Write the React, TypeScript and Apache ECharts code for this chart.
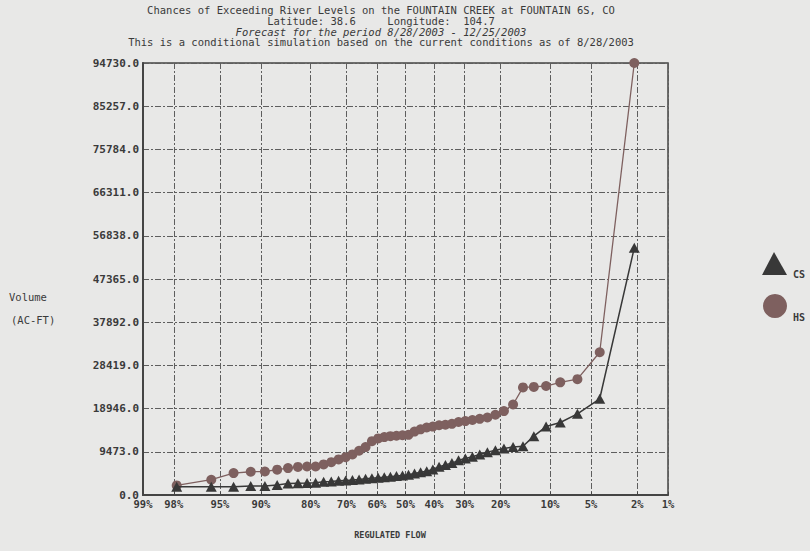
import React, { useEffect, useRef } from "react";
import * as echarts from "echarts";

// ---- text ----
const titleLines = [
  "Chances of Exceeding River Levels on the FOUNTAIN CREEK at FOUNTAIN 6S, CO",
  "Latitude: 38.6     Longitude:  104.7",
  "Forecast for the period 8/28/2003 - 12/25/2003",
  "This is a conditional simulation based on the current conditions as of 8/28/2003",
];
const yNameLines = ["Volume", "(AC-FT)"];
const xName = "REGULATED FLOW";
const seriesNames = ["CS", "HS"];

// ---- x axis (probability of exceedance, normal-probability scale) ----
const tickPercents = [99, 98, 95, 90, 80, 70, 60, 50, 40, 30, 20, 10, 5, 2, 1];
const tickLabels = ["99%", "98%", "95%", "90%", "80%", "70%", "60%", "50%", "40%", "30%", "20%", "10%", "5%", "2%", "1%"];

// ---- y axis ----
const yMin = 0;
const yMax = 94730;
const yInterval = 9473;

// ---- data: exceedance probability (%) of each ranked trace ----
const exceedancePct = [
  97.87, 95.74, 93.62, 91.49, 89.36, 87.23, 85.11, 82.98, 80.85, 78.72,
  76.6, 74.47, 72.34, 70.21, 68.09, 65.96, 63.83, 61.7, 59.57, 57.45,
  55.32, 53.19, 51.06, 48.94, 46.81, 44.68, 42.55, 40.43, 38.3, 36.17,
  34.04, 31.91, 29.79, 27.66, 25.53, 23.4, 21.28, 19.15, 17.02, 14.89,
  12.77, 10.64, 8.51, 6.38, 4.26, 2.13,
];
const hsVolume = [
  2100, 3350, 4800, 5100, 5150, 5550, 5900, 6150, 6250, 6250,
  6700, 7200, 7800, 8300, 8900, 9700, 10500, 11800, 12400, 12700,
  12900, 13000, 13100, 13200, 13900, 14400, 14800, 15000, 15300, 15400,
  15600, 16000, 16200, 16450, 16700, 17000, 17600, 18400, 19850, 23600,
  23700, 23900, 24700, 25400, 31300, 94730,
];
const csVolume = [
  1800, 1800, 1800, 1950, 2000, 2200, 2500, 2600, 2650, 2700,
  2900, 2950, 3100, 3200, 3300, 3400, 3550, 3700, 3800, 3900,
  4000, 4150, 4300, 4450, 4700, 5000, 5200, 5600, 6200, 6600,
  7000, 7600, 8000, 8400, 8900, 9400, 9800, 10200, 10500, 10700,
  12900, 15000, 15900, 17800, 21100, 54200,
];

// inverse standard normal CDF (Acklam) — the axis' probability scale
function invNorm(p: number): number {
  const a = [-3.969683028665376e1, 2.209460984245205e2, -2.759285104469687e2, 1.38357751867269e2, -3.066479806614716e1, 2.506628277459239];
  const b = [-5.447609879822406e1, 1.615858368580409e2, -1.556989798598866e2, 6.680131188771972e1, -1.328068155288572e1];
  const c = [-7.784894002430293e-3, -3.223964580411365e-1, -2.400758277161838, -2.549732539343734, 4.374664141464968, 2.938163982698783];
  const d = [7.784695709041462e-3, 3.224671290700398e-1, 2.445134137142996, 3.754408661907416];
  const plow = 0.02425;
  const phigh = 1 - plow;
  if (p < plow) {
    const q = Math.sqrt(-2 * Math.log(p));
    return (((((c[0] * q + c[1]) * q + c[2]) * q + c[3]) * q + c[4]) * q + c[5]) /
      ((((d[0] * q + d[1]) * q + d[2]) * q + d[3]) * q + 1);
  }
  if (p <= phigh) {
    const q = p - 0.5;
    const r = q * q;
    return ((((((a[0] * r + a[1]) * r + a[2]) * r + a[3]) * r + a[4]) * r + a[5]) * q) /
      (((((b[0] * r + b[1]) * r + b[2]) * r + b[3]) * r + b[4]) * r + 1);
  }
  const q = Math.sqrt(-2 * Math.log(1 - p));
  return -(((((c[0] * q + c[1]) * q + c[2]) * q + c[3]) * q + c[4]) * q + c[5]) /
    ((((d[0] * q + d[1]) * q + d[2]) * q + d[3]) * q + 1);
}
const probToAxis = (pct: number) => invNorm(1 - pct / 100);

const MONO = '"DejaVu Sans Mono", "Liberation Mono", monospace';
const TEXT = "#3a3a3a";
const HS_COLOR = "#7e605f";
const CS_COLOR = "#383838";

export default function App() {
  const ref = useRef<HTMLDivElement>(null);

  useEffect(() => {
    if (!ref.current) return;
    const chart = echarts.init(ref.current, undefined, { renderer: "svg" });
    const tickValues = tickPercents.map(probToAxis);
    const xMin = tickValues[0];
    const xMax = tickValues[tickValues.length - 1];

    const hsData = exceedancePct.map((p, i) => [probToAxis(p), hsVolume[i]]);
    const csData = exceedancePct.map((p, i) => [probToAxis(p), csVolume[i]]);

    const gridLine = { show: true, lineStyle: { color: "#5e5e5e", width: 1, type: [6, 2, 2, 2] as any } };

    const option: any = {
      animation: false,
      backgroundColor: "#e8e8e7",
      grid: {
        left: 143, right: 142, top: 63, bottom: 56,
        show: true, borderColor: "#444", borderWidth: 1.5, backgroundColor: "transparent",
      },
      xAxis: {
        type: "value",
        min: xMin,
        max: xMax,
        axisLine: { show: true, onZero: false, lineStyle: { color: "#444", width: 2 } },
        axisTick: { show: true, customValues: tickValues, length: 3, inside: true, lineStyle: { color: "#444" } },
        axisLabel: {
          customValues: tickValues,
          showMinLabel: true,
          showMaxLabel: true,
          margin: 3,
          color: TEXT,
          fontFamily: MONO,
          fontSize: 10.5,
          fontWeight: "bold",
          formatter: (v: number) => {
            let best = 0;
            let bd = Infinity;
            tickValues.forEach((t, i) => {
              const dd = Math.abs(t - v);
              if (dd < bd) { bd = dd; best = i; }
            });
            return tickLabels[best];
          },
        },
        splitLine: gridLine,
      },
      yAxis: {
        type: "value",
        min: yMin,
        max: yMax,
        interval: yInterval,
        axisLine: { show: true, onZero: false, lineStyle: { color: "#444", width: 2 } },
        axisTick: { show: false },
        axisLabel: {
          margin: 4,
          color: TEXT,
          fontFamily: MONO,
          fontSize: 11,
          fontWeight: "bold",
          formatter: (v: number) => v.toFixed(1),
        },
        splitLine: gridLine,
      },
      series: [
        {
          name: seriesNames[1],
          type: "line",
          data: hsData,
          symbol: "circle",
          symbolSize: 10,
          lineStyle: { color: HS_COLOR, width: 1.3 },
          itemStyle: { color: HS_COLOR },
          z: 3,
        },
        {
          name: seriesNames[0],
          type: "line",
          data: csData,
          symbol: "triangle",
          symbolSize: [11, 10],
          lineStyle: { color: CS_COLOR, width: 1.5 },
          itemStyle: { color: CS_COLOR },
          z: 4,
        },
      ],
      graphic: [
        ...titleLines.map((t, i) => ({
          type: "text",
          x: 381,
          y: 10 + i * 10.8,
          style: {
            text: t,
            textAlign: "center",
            textVerticalAlign: "middle",
            fill: TEXT,
            font: `${i === 2 ? "italic " : ""}10.5px ${MONO}`,
          },
        })),
        ...yNameLines.map((t, i) => ({
          type: "text",
          x: 9 + i * 2,
          y: 297 + i * 23,
          style: { text: t, textVerticalAlign: "middle", fill: TEXT, font: `10.5px ${MONO}` },
        })),
        {
          type: "text",
          x: 390,
          y: 535,
          style: { text: xName, textAlign: "center", textVerticalAlign: "middle", fill: TEXT, font: `bold 8.5px ${MONO}` },
        },
        {
          type: "polygon",
          shape: { points: [[774, 252], [787, 275], [762, 275]] },
          style: { fill: CS_COLOR },
        },
        {
          type: "text",
          x: 793,
          y: 274,
          style: { text: seriesNames[0], textVerticalAlign: "middle", fill: TEXT, font: `bold 10px ${MONO}` },
        },
        {
          type: "circle",
          shape: { cx: 775, cy: 306, r: 12 },
          style: { fill: HS_COLOR },
        },
        {
          type: "text",
          x: 793,
          y: 317,
          style: { text: seriesNames[1], textVerticalAlign: "middle", fill: TEXT, font: `bold 10px ${MONO}` },
        },
      ],
    };
    chart.setOption(option);
    return () => chart.dispose();
  }, []);

  return (
    <div
      ref={ref}
      style={{ position: "fixed", left: 0, top: 0, width: 810, height: 551, background: "#e8e8e7" }}
    />
  );
}
